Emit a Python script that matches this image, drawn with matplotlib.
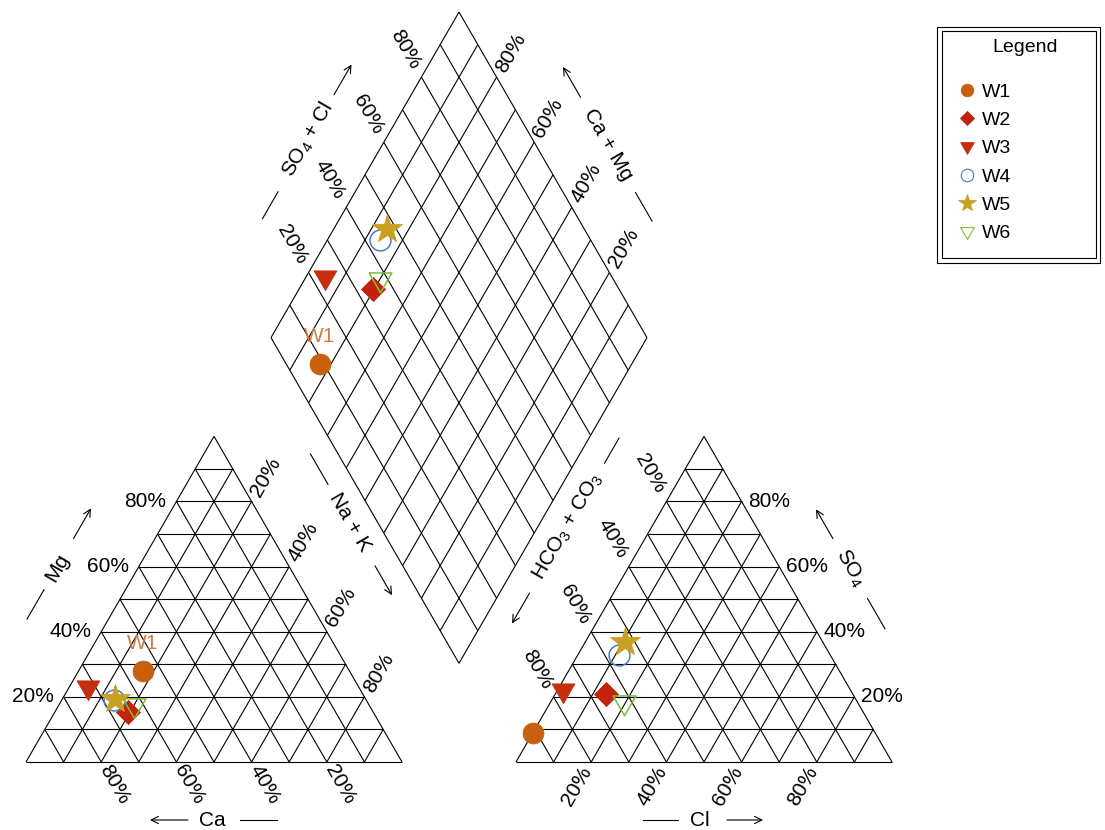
import numpy as np
import matplotlib
matplotlib.use("Agg")
import matplotlib.pyplot as plt
from matplotlib.lines import Line2D
from matplotlib.patches import Rectangle

plt.rcParams["font.family"] = ["Liberation Sans", "DejaVu Sans"]
plt.rcParams["mathtext.default"] = "regular"

# ---- sample composition (percent of meq) ----
samples = ["W1", "W2", "W3", "W4", "W5", "W6"]
ca = [55.0, 65.0, 72.0, 67.0, 66.5, 62.5]
mg = [28.0, 15.5, 23.0, 19.0, 19.5, 17.5]
na_k = [17.0, 19.5, 5.0, 14.0, 14.0, 20.0]
hco3 = [91.0, 65.5, 76.5, 56.0, 52.5, 62.0]
so4 = [9.0, 21.0, 22.0, 33.0, 37.0, 18.5]
cl = [0.0, 13.5, 1.5, 11.0, 10.5, 19.5]

tick_values = [20, 40, 60, 80]
tick_labels = ["20%", "40%", "60%", "80%"]

colors = ["#C8600E", "#C3220D", "#C4300E", "#4A7CC0", "#C9A021", "#7DBE3A"]
label_color = "#CF7D45"

# ---- layout ----
SIDE_PX = 376.0          # triangle side in pixels
PX = 1.0 / SIDE_PX       # data units per pixel
GAP = 114.0 / SIDE_PX    # gap between the two triangles
H = np.sqrt(3) / 2
FS = 15
LEG_FS = 14

tri_down = [(-1, 0.577), (1, 0.577), (0, -1.155), (-1, 0.577)]
markers = ["o", "D", tri_down, "o", "*", tri_down]
sizes = [15, 12.5, 19, 15, 22, 19]
filled = [True, True, True, False, True, False]


def cation_xy(m, n):
    m, n = np.asarray(m) / 100.0, np.asarray(n) / 100.0
    return n + m / 2, m * H


def anion_xy(s, c):
    s, c = np.asarray(s) / 100.0, np.asarray(c) / 100.0
    return 1 + GAP + c + s / 2, s * H


def diamond_xy(n, sc):
    a, b = np.asarray(n) / 100.0, np.asarray(sc) / 100.0
    t = 1 + GAP + b - a
    return a + t / 2, t * H


def offset(x, y, dist_px, ang_deg):
    r = np.radians(ang_deg)
    return x + dist_px * PX * np.cos(r), y + dist_px * PX * np.sin(r)


fig = plt.figure(figsize=(11.05, 8.30), dpi=100)
ax = fig.add_axes([0, 0, 1, 1])
ax.set_xlim(-26 * PX, (1105 - 26) * PX)
ax.set_ylim((762 - 830) * PX, 762 * PX)
ax.axis("off")

grid_kw = dict(color="black", lw=0.8, solid_capstyle="butt", zorder=1)

# ---- grids ----
for i in range(10):
    f = i * 10.0
    for func in (cation_xy, anion_xy):
        for p, q in [((f, 0), (f, 100 - f)),          # first component constant
                     ((0, f), (100 - f, f)),          # second component constant
                     ((0, 100 - f), (100 - f, 0))]:   # third component constant
            x0, y0 = func(*p)
            x1, y1 = func(*q)
            ax.plot([x0, x1], [y0, y1], **grid_kw)
for i in range(11):
    f = i * 10.0
    for p, q in [((f, 0), (f, 100)), ((0, f), (100, f))]:
        x0, y0 = diamond_xy(*p)
        x1, y1 = diamond_xy(*q)
        ax.plot([x0, x1], [y0, y1], **grid_kw)

txt_kw = dict(fontsize=FS, ha="center", va="center", rotation_mode="anchor")

# ---- percentage labels ----
for v, s in zip(tick_values, tick_labels):
    # cation triangle
    x, y = cation_xy(v, 0)
    ax.text(x - 10 * PX, y, s, fontsize=FS, ha="right", va="center")
    x, y = offset(*cation_xy(0, 100 - v), 26, -60)
    ax.text(x, y, s, rotation=-60, **txt_kw)
    x, y = offset(*cation_xy(100 - v, v), 28, 60)
    ax.text(x, y, s, rotation=60, **txt_kw)
    # anion triangle
    x, y = offset(*anion_xy(100 - v, 0), 32, 120)
    ax.text(x, y, s, rotation=-60, **txt_kw)
    x, y = anion_xy(v, 100 - v)
    ax.text(x + 7 * PX, y, s, fontsize=FS, ha="left", va="center")
    x, y = offset(*anion_xy(0, v), 28, 240)
    ax.text(x, y, s, rotation=60, **txt_kw)
    # diamond
    x, y = offset(*diamond_xy(0, v), 32, 120)
    ax.text(x, y, s, rotation=-60, **txt_kw)
    x, y = offset(*diamond_xy(100 - v, 100), 28, 60)
    ax.text(x, y, s, rotation=60, **txt_kw)

# ---- axis titles with direction arrows ----
titles = [
    # text, anchor point, (dx, dy) px, rotation, edge direction, segment, arrow
    ("Mg", cation_xy(50, 0), (-63, 32), 60, 60, (-60, -26), (33, 68)),
    ("Ca", cation_xy(0, 50), (-2, -58), 0, 180, (-65, -28), (24, 62)),
    ("Na + K", diamond_xy(50, 0), (-15, -22), -60, -60, (-79, -44), (50, 84)),
    ("HCO$_3$ + CO$_3$", diamond_xy(100, 50), (15, -26), 60, 240, (-102, -73), (77, 112)),
    ("SO$_4$", anion_xy(50, 50), (52, 31), -60, 120, (-70, -35), (34, 68)),
    ("Cl", anion_xy(0, 50), (-4, -58), 0, 0, (-57, -22), (27, 63)),
    ("SO$_4$ + Cl", diamond_xy(0, 50), (-57, 35), 60, 60, (-91, -60), (52, 87)),
    ("Ca + Mg", diamond_xy(50, 100), (55, 30), -60, 120, (-88, -55), (55, 90)),
]
for text, (ax0, ay0), (dx, dy), rot, edir, seg, arr in titles:
    cx, cy = ax0 + dx * PX, ay0 + dy * PX
    ax.text(cx, cy, text, rotation=rot, **txt_kw)
    sx0, sy0 = offset(cx, cy, seg[0], edir)
    sx1, sy1 = offset(cx, cy, seg[1], edir)
    ax.plot([sx0, sx1], [sy0, sy1], color="black", lw=0.8)
    tx0, ty0 = offset(cx, cy, arr[0], edir)
    tx1, ty1 = offset(cx, cy, arr[1], edir)
    ax.annotate("", xy=(tx1, ty1), xytext=(tx0, ty0),
                arrowprops=dict(arrowstyle="->", lw=0.8, color="black",
                                mutation_scale=13, shrinkA=0, shrinkB=0))

# ---- sample points ----
cx_, cy_ = cation_xy(mg, na_k)
axx, axy = anion_xy(so4, cl)
dx_, dy_ = diamond_xy(na_k, np.asarray(so4) + np.asarray(cl))
handles = []
for i, name in enumerate(samples):
    style = dict(marker=markers[i], ms=sizes[i], ls="none", zorder=3,
                 mec=colors[i], mew=0.6 if filled[i] else 1.1,
                 mfc=colors[i] if filled[i] else "none")
    for xs, ys in ((cx_, cy_), (axx, axy), (dx_, dy_)):
        ax.plot(xs[i], ys[i], **style)
    hstyle = dict(style)
    hstyle["ms"] = sizes[i] * 0.6
    hstyle["mew"] = 0.6 if filled[i] else 0.8
    handles.append(Line2D([], [], **hstyle))

# label for the first sample
for xs, ys in ((cx_, cy_), (dx_, dy_)):
    ax.text(xs[0], ys[0] + 27 * PX, samples[0], color=label_color,
            fontsize=FS, ha="center", va="center")

# ---- legend ----
W, Hf = 1105.0, 830.0
for (l, t, r, b) in [(937, 27, 1100, 262.7), (941.7, 31, 1096, 258.3)]:
    fig.add_artist(Rectangle((l / W, 1 - b / Hf), (r - l) / W, (b - t) / Hf,
                             transform=fig.transFigure, fill=False,
                             ec="black", lw=0.8))
fig.text(1025 / W, 1 - 47 / Hf, "Legend", fontsize=LEG_FS, ha="center", va="center")
ax.legend(handles, samples, loc="upper left",
          bbox_to_anchor=(957 / W, 1 - 83 / Hf), bbox_transform=fig.transFigure,
          frameon=False, borderpad=0, borderaxespad=0, handlelength=1.0,
          handletextpad=0.3, labelspacing=0.55, fontsize=LEG_FS)

fig.savefig("out.png", dpi=100)
